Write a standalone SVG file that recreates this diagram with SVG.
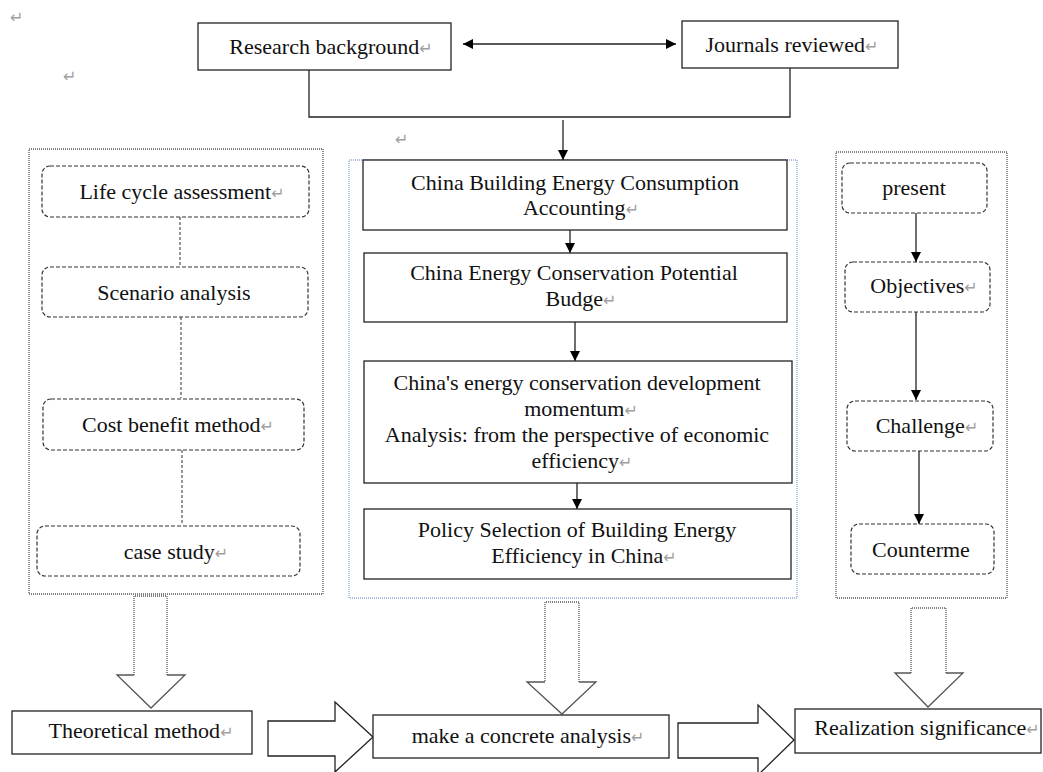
<svg xmlns="http://www.w3.org/2000/svg" width="1043" height="772" viewBox="0 0 1043 772">
<style>
.t{font-size:22px;fill:#111;text-anchor:middle}
.pm{font-family:'DejaVu Sans',sans-serif;font-size:16px;fill:#a0a0a0}
.box{fill:#fff;stroke:#222;stroke-width:1.3}
.dbox{fill:#fff;stroke:#333;stroke-width:1.2;stroke-dasharray:4 2}
.panel{fill:none;stroke:#555;stroke-width:1.3;stroke-dasharray:1 1}
.bpanel{fill:none;stroke:#8ea6d6;stroke-width:1.3;stroke-dasharray:1 1}
.line{fill:none;stroke:#222;stroke-width:1.3}
.arr{fill:none;stroke:#222;stroke-width:1.3;marker-end:url(#ah)}
.dcon{fill:none;stroke:#444;stroke-width:1.1;stroke-dasharray:3 2}
.hshaft{fill:#fff;stroke:#555;stroke-width:1.3;stroke-dasharray:1 1}
.hhead{fill:none;stroke:#555;stroke-width:1.3}
.harr{fill:#fff;stroke:#222;stroke-width:1.3}
</style>
<defs>
<marker id="ah" viewBox="0 0 10 10" refX="10" refY="5" markerWidth="10" markerHeight="10" markerUnits="userSpaceOnUse" orient="auto-start-reverse">
<path d="M0,0 L10,5 L0,10 Z" fill="#000"/>
</marker>
</defs>
<rect width="1043" height="772" fill="#fff"/>

<g font-family="Liberation Serif, Times New Roman, serif">
<!-- stray paragraph marks -->
<text class="pm" x="10" y="23">↵</text>
<text class="pm" x="63" y="82">↵</text>
<text class="pm" x="395" y="145">↵</text>

<!-- panels -->
<g id="panel-left"><rect class="panel" x="29" y="149" width="294" height="445"/></g>
<g id="panel-middle"><rect class="bpanel" x="349" y="160" width="448" height="438"/></g>
<g id="panel-right"><rect class="panel" x="836" y="152" width="171" height="446"/></g>

<!-- connectors -->
<g id="connectors">
<line class="arr" x1="463" y1="44" x2="676" y2="44" marker-start="url(#ah)"/>
<path class="line" d="M309,70 V117 H790 V68"/>
<line class="arr" x1="563" y1="120" x2="563" y2="160"/>
<line class="arr" x1="570" y1="230" x2="570" y2="253"/>
<line class="arr" x1="575" y1="322" x2="575" y2="361"/>
<line class="arr" x1="577" y1="483" x2="577" y2="509"/>
<line class="dcon" x1="180" y1="217" x2="180" y2="266"/>
<line class="dcon" x1="181" y1="317" x2="181" y2="398"/>
<line class="dcon" x1="182" y1="450" x2="182" y2="525"/>
<line class="arr" x1="916" y1="213" x2="916" y2="262"/>
<line class="arr" x1="916" y1="312" x2="916" y2="400"/>
<line class="arr" x1="919" y1="451" x2="919" y2="524"/>
<path class="hshaft" d="M167,675 V596 H134 V675"/>
<path class="hhead" d="M134,675 H117 L151,708 L185,675 H167"/>
<path class="hshaft" d="M579,682 V602 H545 V682"/>
<path class="hhead" d="M545,682 H527 L562,714 L596,682 H579"/>
<path class="hshaft" d="M946,673 V608 H911 V673"/>
<path class="hhead" d="M911,673 H895 L928,707 L963,673 H946"/>
<path class="harr" d="M268,721 H335 V702 L373,737 L335,772 V756 H268 Z"/>
<path class="harr" d="M678,723 H758 V705 L794,740 L758,775 V758 H678 Z"/>
</g>

<g id="research-background"><rect class="box" x="198" y="23" width="253" height="47"/><text class="t" x="331" y="54">Research background<tspan class="pm">↵</tspan></text></g>
<g id="journals-reviewed"><rect class="box" x="682" y="21" width="216" height="47"/><text class="t" x="792" y="52">Journals reviewed<tspan class="pm">↵</tspan></text></g>

<g id="life-cycle"><rect class="dbox" x="42" y="166" width="267" height="51" rx="8"/><text class="t" x="182" y="199">Life cycle assessment<tspan class="pm">↵</tspan></text></g>
<g id="scenario"><rect class="dbox" x="42" y="267" width="266" height="50" rx="8"/><text class="t" x="174" y="300">Scenario analysis</text></g>
<g id="cost-benefit"><rect class="dbox" x="43" y="399" width="261" height="51" rx="8"/><text class="t" x="178" y="432">Cost benefit method<tspan class="pm">↵</tspan></text></g>
<g id="case-study"><rect class="dbox" x="37" y="526" width="263" height="50" rx="8"/><text class="t" x="176" y="559">case study<tspan class="pm">↵</tspan></text></g>

<g id="accounting"><rect class="box" x="363" y="160" width="424" height="70"/><text class="t" x="575" y="190">China Building Energy Consumption</text><text class="t" x="581" y="215">Accounting<tspan class="pm">↵</tspan></text></g>
<g id="potential"><rect class="box" x="364" y="253" width="423" height="69"/><text class="t" x="574" y="280">China Energy Conservation Potential</text><text class="t" x="581" y="306">Budge<tspan class="pm">↵</tspan></text></g>
<g id="momentum"><rect class="box" x="364" y="361" width="428" height="122"/><text class="t" x="577" y="390">China's energy conservation development</text><text class="t" x="581" y="416">momentum<tspan class="pm">↵</tspan></text><text class="t" x="577" y="442">Analysis: from the perspective of economic</text><text class="t" x="582" y="468">efficiency<tspan class="pm">↵</tspan></text></g>
<g id="policy"><rect class="box" x="364" y="509" width="427" height="70"/><text class="t" x="577" y="537">Policy Selection of Building Energy</text><text class="t" x="584" y="563">Efficiency in China<tspan class="pm">↵</tspan></text></g>

<g id="present"><rect class="dbox" x="842" y="163" width="145" height="50" rx="8"/><text class="t" x="914" y="195">present</text></g>
<g id="objectives"><rect class="dbox" x="845" y="262" width="145" height="50" rx="8"/><text class="t" x="924" y="293">Objectives<tspan class="pm">↵</tspan></text></g>
<g id="challenge"><rect class="dbox" x="847" y="401" width="146" height="50" rx="8"/><text class="t" x="927" y="433">Challenge<tspan class="pm">↵</tspan></text></g>
<g id="counterme"><rect class="dbox" x="851" y="524" width="143" height="50" rx="8"/><text class="t" x="921" y="557">Counterme</text></g>

<g id="theoretical"><rect class="box" x="12" y="711" width="240" height="43"/><text class="t" x="141" y="738">Theoretical method<tspan class="pm">↵</tspan></text></g>
<g id="concrete"><rect class="box" x="373" y="715" width="296" height="43"/><text class="t" x="528" y="743">make a concrete analysis<tspan class="pm">↵</tspan></text></g>
<g id="realization"><rect class="box" x="795" y="709" width="246" height="44"/><text class="t" x="927" y="735">Realization significance<tspan class="pm">↵</tspan></text></g>
</g>
</svg>
